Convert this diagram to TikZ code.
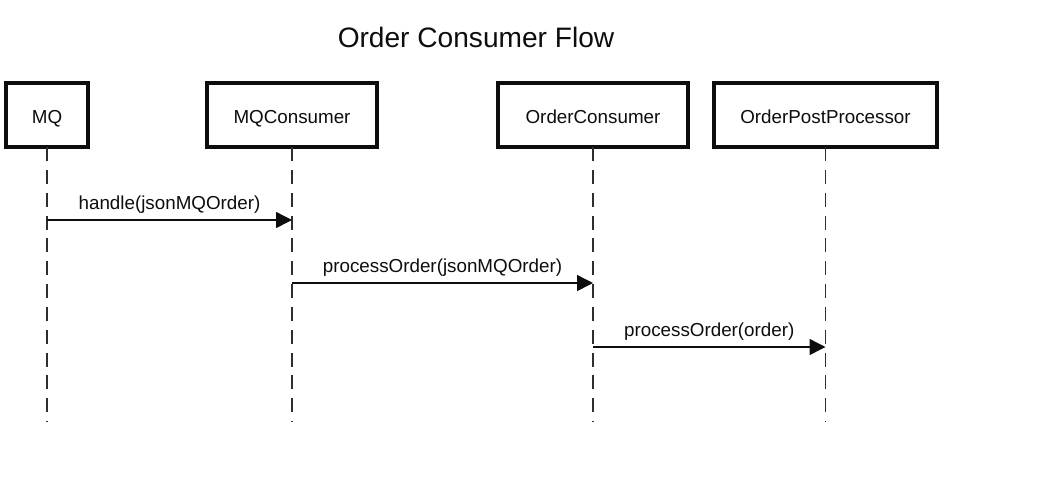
\documentclass[tikz,border=0pt]{standalone}
\usepackage{fontspec}
\setmainfont{Liberation Sans}
\usetikzlibrary{arrows.meta,positioning}
\definecolor{SeqInk}{gray}{0.05}
\definecolor{SeqLine}{gray}{0.18}
\tikzset{
    seq/diagram/.style={
        x=0.02cm, y=-0.02cm,
        font=\fontsize{10.7}{12.8}\selectfont,
        text=SeqInk,
        every node/.style={inner sep=0pt, outer sep=0pt}
    },
    seq/title/.style={font=\fontsize{16}{19}\selectfont},
    seq/actor/.style={
        draw=SeqInk, line width=2pt, fill=white,
        minimum height=1.28cm, text height=0.92em, text depth=0pt
    },
    seq/lifeline/.style={
        draw=SeqLine, line width=0.9pt,
        dash pattern=on 8pt off 5pt
    },
    seq/message/.style={
        draw=SeqInk, line width=0.8pt,
        -{Triangle[length=9pt, width=9pt]}
    },
    seq/label/.style={above=4pt}
}
\begin{document}
\begin{tikzpicture}[seq/diagram]
    \useasboundingbox (0,0) rectangle (1051,495);
    \node[seq/title] (title) at (476,37) {Order Consumer Flow};

    % Participants.
    \node[seq/actor, minimum width=1.64cm] (mq) at (47,115) {MQ};
    \node[seq/actor, minimum width=3.4cm] (mqc) at (292,115) {MQConsumer};
    \node[seq/actor, minimum width=3.8cm] (oc) at (593,115) {OrderConsumer};
    \node[seq/actor, minimum width=4.46cm] (opp) at (825.5,115) {OrderPostProcessor};

    % Lifelines run down to a common floor.
    \coordinate (floor) at (0,422);
    \foreach \p in {mq,mqc,oc,opp}
        \draw[seq/lifeline] (\p.south) -- (\p |- floor);

    % Messages, one row each.
    \coordinate (row1) at (0,220);
    \coordinate (row2) at (0,283);
    \coordinate (row3) at (0,347);
    \draw[seq/message] (mq |- row1) -- (mqc |- row1)
        node[midway, seq/label] (m1) {handle(jsonMQOrder)};
    \draw[seq/message] (mqc |- row2) -- (oc |- row2)
        node[midway, seq/label] (m2) {processOrder(jsonMQOrder)};
    \draw[seq/message] (oc |- row3) -- (opp |- row3)
        node[midway, seq/label] (m3) {processOrder(order)};
\end{tikzpicture}
\end{document}
